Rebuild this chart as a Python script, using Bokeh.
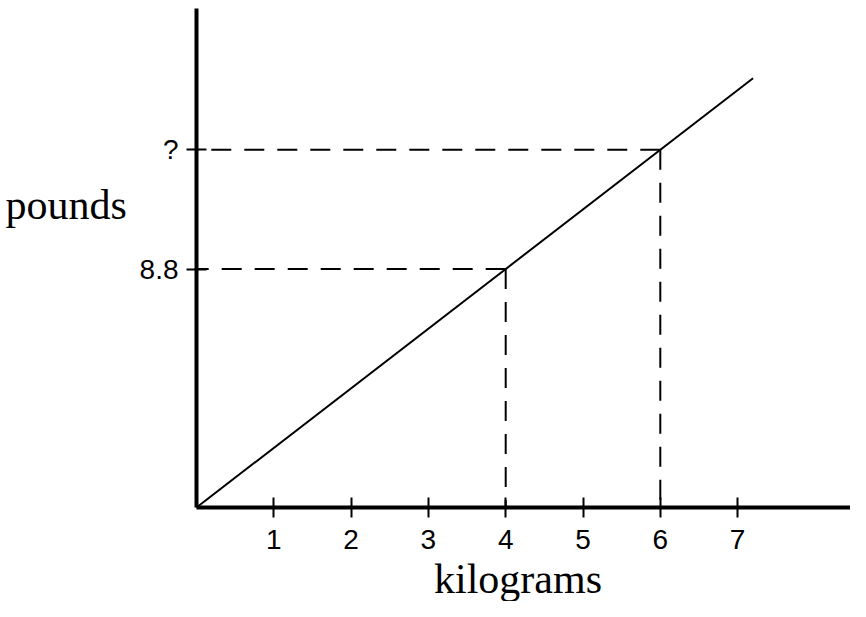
from bokeh.plotting import figure
from bokeh.models import ColumnDataSource, Range1d, FixedTicker, Label
from bokeh.embed import file_html
from bokeh.resources import INLINE

# conversion line kg -> lb
line_kg = [0, 7.2]
line_lb = [0, 15.84]

# marked points with dashed guide lines
marked_kg = [4, 6]
marked_lb = [8.8, 13.2]
marked_lb_labels = ["8.8", "?"]

x_ticks = [1, 2, 3, 4, 5, 6, 7]

# frame fills the canvas, axes sit at the origin (77.3 px/kg, 27.1 px/lb)
p = figure(width=850, height=601, title=None, toolbar_location=None,
           output_backend="svg",
           x_range=Range1d(-196 / 77.3, 654 / 77.3),
           y_range=Range1d(-94 / 27.1, 507 / 27.1),
           min_border=0)
p.outline_line_color = None
p.grid.visible = False
p.background_fill_color = "white"

sans = "Liberation Sans"
serif = "Liberation Serif"

p.xaxis.ticker = FixedTicker(ticks=x_ticks)
p.yaxis.ticker = FixedTicker(ticks=marked_lb)
p.yaxis.major_label_overrides = dict(zip(marked_lb, marked_lb_labels))
p.xaxis.fixed_location = 0
p.yaxis.fixed_location = 0
p.xaxis.bounds = (0, 654 / 77.3)
p.yaxis.bounds = (0, 499 / 27.1)

for ax in (p.xaxis, p.yaxis):
    ax.axis_line_width = 4
    ax.axis_line_color = "black"
    ax.major_tick_line_width = 2
    ax.major_tick_line_color = "black"
    ax.major_tick_in = 10
    ax.major_tick_out = 10
    ax.minor_tick_line_color = None
    ax.major_label_text_font = sans
    ax.major_label_text_font_size = "28px"
    ax.major_label_text_color = "black"
p.xaxis.major_label_standoff = 12
p.yaxis.major_label_standoff = 8

# dashed guides drawn from the point back to each axis
guides = ColumnDataSource(data=dict(
    x0=marked_kg + marked_kg,
    y0=marked_lb + marked_lb,
    x1=[0] * len(marked_kg) + marked_kg,
    y1=marked_lb + [0] * len(marked_lb),
))
p.segment(x0="x0", y0="y0", x1="x1", y1="y1", source=guides,
          line_color="black", line_width=2, line_dash="20 13")

p.line(line_kg, line_lb, line_color="black", line_width=2)

p.add_layout(Label(x=-2.471, y=11.15, text="pounds", text_font=serif,
                   text_font_size="42px", text_color="black",
                   text_baseline="alphabetic", text_align="left"))
p.add_layout(Label(x=4.159, y=-2.62, text="kilograms", text_font=serif,
                   text_font_size="42px", text_color="black",
                   text_baseline="alphabetic", text_align="center"))

open("out.html", "w").write(file_html(p, INLINE))
